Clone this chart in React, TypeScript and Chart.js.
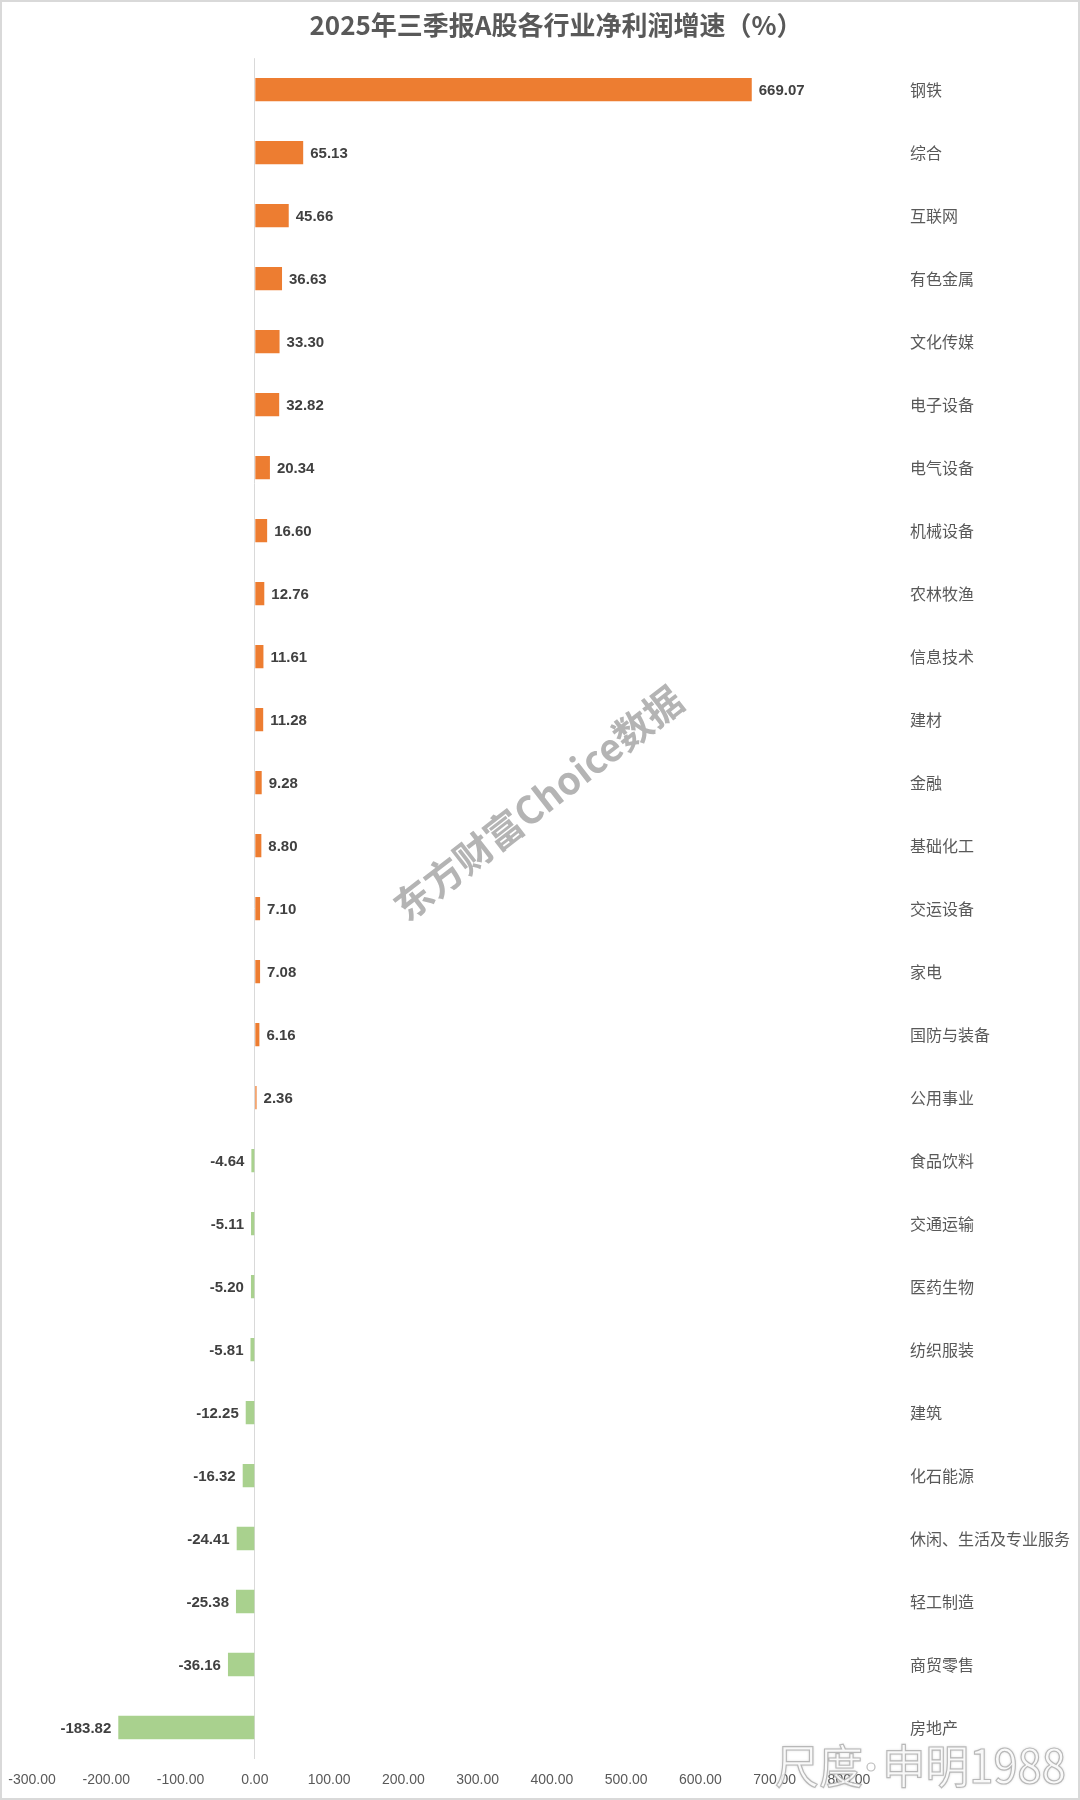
import React, { useEffect, useRef } from "react";
import { Chart, registerables } from "chart.js";

Chart.register(...registerables);

const chartTitle = "2025年三季报A股各行业净利润增速（%）";

const categories = [
  "钢铁", "综合", "互联网", "有色金属", "文化传媒", "电子设备", "电气设备", "机械设备",
  "农林牧渔", "信息技术", "建材", "金融", "基础化工", "交运设备", "家电", "国防与装备",
  "公用事业", "食品饮料", "交通运输", "医药生物", "纺织服装", "建筑", "化石能源",
  "休闲、生活及专业服务", "轻工制造", "商贸零售", "房地产",
];

const growthValues = [
  669.07, 65.13, 45.66, 36.63, 33.3, 32.82, 20.34, 16.6,
  12.76, 11.61, 11.28, 9.28, 8.8, 7.1, 7.08, 6.16,
  2.36, -4.64, -5.11, -5.2, -5.81, -12.25, -16.32,
  -24.41, -25.38, -36.16, -183.82,
];

const xTickValues = [-300, -200, -100, 0, 100, 200, 300, 400, 500, 600, 700, 800];
const xTickLabels = ["-300.00", "-200.00", "-100.00", "0.00", "100.00", "200.00", "300.00", "400.00", "500.00", "600.00", "700.00", "800.00"];

const watermarkCenter = "东方财富Choice数据";
const watermarkCorner = "尺度·申明1988";

const POS_COLOR = "#ED7D31";
const NEG_COLOR = "#A9D18E";
const TEXT_GRAY = "#595959";
const CJK = '"Noto Sans CJK SC", "Noto Sans", sans-serif';
const NUM = '"Liberation Sans", Arial, sans-serif';

export default function App() {
  const canvasRef = useRef<HTMLCanvasElement | null>(null);

  useEffect(() => {
    const canvas = canvasRef.current;
    if (!canvas) return;

    const backgroundPlugin = {
      id: "bgAndWatermark",
      beforeDraw(chart: any) {
        const { ctx, width, height } = chart;
        ctx.save();
        ctx.fillStyle = "#ffffff";
        ctx.fillRect(0, 0, width, height);
        ctx.restore();
      },
      beforeDatasetsDraw(chart: any) {
        const { ctx } = chart;
        ctx.save();
        ctx.translate(538, 803);
        ctx.rotate((-37.8 * Math.PI) / 180);
        ctx.fillStyle = "#b4b4b4";
        ctx.font = `bold 38px ${CJK}`;
        ctx.textAlign = "center";
        ctx.textBaseline = "middle";
        ctx.fillText(watermarkCenter, 0, 0);
        ctx.restore();
      },
    };

    const drawFitted = (ctx: any, text: string, x: number, y: number, w: number) => {
      const m = ctx.measureText(text).width || 1;
      ctx.save();
      ctx.translate(x, y);
      ctx.scale(w / m, 1);
      ctx.shadowColor = "rgba(0,0,0,0.25)";
      ctx.shadowBlur = 3;
      ctx.fillText(text, 0, 0);
      ctx.shadowColor = "rgba(0,0,0,0)";
      ctx.strokeText(text, 0, 0);
      ctx.restore();
    };

    const labelPlugin = {
      id: "dataLabels",
      afterDatasetsDraw(chart: any) {
        const { ctx } = chart;
        const meta = chart.getDatasetMeta(0);
        ctx.save();
        ctx.font = `bold 15px ${NUM}`;
        ctx.fillStyle = "#404040";
        ctx.textBaseline = "middle";
        meta.data.forEach((bar: any, i: number) => {
          const v = growthValues[i];
          const label = v.toFixed(2);
          if (v >= 0) {
            ctx.textAlign = "left";
            ctx.fillText(label, bar.x + 7, bar.y + 1);
          } else {
            ctx.textAlign = "right";
            ctx.fillText(label, bar.x - 7, bar.y + 1);
          }
        });
        ctx.restore();
      },
      afterDraw(chart: any) {
        const { ctx, width, height } = chart;
        // corner watermark
        const [leftPart, rightPart] = watermarkCorner.split("·");
        ctx.save();
        ctx.font = `46px ${CJK}`;
        ctx.textAlign = "left";
        ctx.textBaseline = "middle";
        ctx.lineWidth = 1.2;
        ctx.strokeStyle = "rgba(170,170,170,0.8)";
        ctx.fillStyle = "rgba(255,255,255,0.85)";
        drawFitted(ctx, leftPart, 775, 1766, 88);
        drawFitted(ctx, rightPart, 882, 1766, 184);
        ctx.beginPath();
        ctx.arc(871, 1767, 4, 0, Math.PI * 2);
        ctx.fill();
        ctx.stroke();
        ctx.restore();
        // chart border
        ctx.save();
        ctx.strokeStyle = "#d9d9d9";
        ctx.lineWidth = 2;
        ctx.strokeRect(1, 1, width - 2, height - 2);
        ctx.restore();
      },
    };

    const chart = new Chart(canvas, {
      type: "bar",
      data: {
        labels: categories,
        datasets: [
          {
            data: growthValues,
            backgroundColor: growthValues.map((v) => (v >= 0 ? POS_COLOR : NEG_COLOR)),
            barPercentage: 0.37,
            categoryPercentage: 1,
          },
        ],
      },
      options: {
        indexAxis: "y",
        responsive: false,
        animation: false,
        devicePixelRatio: 1,
        layout: { padding: { left: 32, right: 0, top: 0, bottom: 0 } },
        plugins: {
          legend: { display: false },
          tooltip: { enabled: false },
          title: {
            display: true,
            text: chartTitle,
            color: TEXT_GRAY,
            font: { family: CJK, size: 26, weight: "bold" },
            padding: { top: 10, bottom: 17 },
          },
        },
        scales: {
          x: {
            type: "linear",
            min: xTickValues[0],
            max: xTickValues[xTickValues.length - 1],
            afterBuildTicks: (scale: any) => {
              scale.ticks = xTickValues.map((v) => ({ value: v }));
            },
            ticks: {
              callback: (_v: any, idx: number) => xTickLabels[idx],
              color: TEXT_GRAY,
              font: { family: NUM, size: 14 },
              padding: 13,
              maxRotation: 0,
              autoSkip: false,
            },
            grid: {
              drawTicks: false,
              color: (ctx: any) => (ctx.tick && ctx.tick.value === 0 ? "#d9d9d9" : "rgba(0,0,0,0)"),
              lineWidth: 1,
            },
            border: { display: false },
            afterFit: (scale: any) => {
              scale.height = 41;
              scale.paddingLeft = 0;
              scale.paddingRight = 0;
            },
          },
          y: {
            position: "right",
            grid: { display: false, drawTicks: false },
            border: { display: false },
            ticks: {
              color: TEXT_GRAY,
              font: { family: CJK, size: 16 },
              padding: 61,
              autoSkip: false,
            },
            afterFit: (scale: any) => {
              scale.width = 231;
              scale.paddingTop = 0;
              scale.paddingBottom = 0;
            },
          },
        },
      } as any,
      plugins: [backgroundPlugin, labelPlugin],
    });

    return () => {
      chart.destroy();
    };
  }, []);

  return (
    <div style={{ position: "absolute", left: 0, top: 0, width: 1080, height: 1800, background: "#fff" }}>
      <canvas ref={canvasRef} width={1080} height={1800} style={{ display: "block", width: 1080, height: 1800 }} />
    </div>
  );
}
